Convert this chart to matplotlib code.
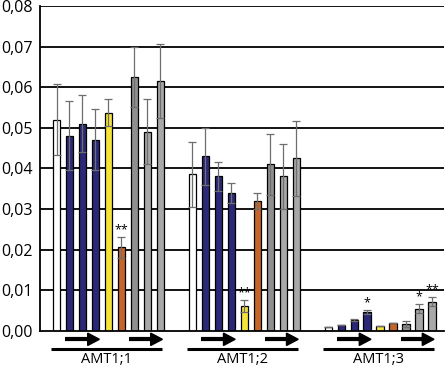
import numpy as np
import matplotlib.pyplot as plt
from matplotlib.patches import Polygon

plt.rcParams['font.family'] = ['Open Sans', 'DejaVu Sans']

groups = ['AMT1;1', 'AMT1;2', 'AMT1;3']
colors = ['white', '#2b2878', '#2b2878', '#2b2878', '#f3e43c',
          '#c5652a', '#8f8f8f', '#a8a8a8', '#a8a8a8']

values = [
    [0.052, 0.048, 0.051, 0.047, 0.0537, 0.0205, 0.0625, 0.049, 0.0615],
    [0.0385, 0.043, 0.038, 0.034, 0.006, 0.032, 0.041, 0.038, 0.0425],
    [0.0008, 0.0013, 0.0026, 0.0046, 0.0012, 0.0018, 0.0016, 0.0054, 0.0071],
]
errors = [
    [0.0087, 0.0085, 0.007, 0.0075, 0.0033, 0.0025, 0.0075, 0.008, 0.0092],
    [0.008, 0.007, 0.0035, 0.0025, 0.0015, 0.002, 0.0075, 0.008, 0.0092],
    [0.0, 0.0, 0.0002, 0.0005, 0.0, 0.0, 0.0008, 0.0011, 0.0011],
]
stars = {(0, 5): '**', (1, 4): '**', (2, 3): '*', (2, 7): '*', (2, 8): '**'}

yticks = np.arange(0, 0.081, 0.01)
ytick_labels = ['0,00', '0,01', '0,02', '0,03', '0,04', '0,05', '0,06', '0,07', '0,08']

group_step = 10.45
width = 0.55

fig = plt.figure(figsize=(4.48, 3.69), dpi=100)
ax = fig.add_axes([40 / 448, 1 - 330.7 / 369, 404 / 448, 324.7 / 369])

for y in yticks[1:]:
    ax.axhline(y, color='black', lw=1.3, zorder=0)

for g in range(3):
    x = g * group_step + np.arange(9)
    ax.bar(x, values[g], width=width, color=colors, edgecolor='black',
           linewidth=0.9, zorder=2)
    ax.errorbar(x, values[g], yerr=errors[g], fmt='none', ecolor='#6e6e6e',
                elinewidth=0.9, capsize=3, capthick=0.9, zorder=3)
    for i in range(9):
        if (g, i) in stars:
            ax.text(x[i], values[g][i] + errors[g][i] + 0.0002, stars[(g, i)],
                    ha='center', va='bottom', fontsize=9, zorder=4)

    # gene structure arrows below the axis
    trans = ax.get_xaxis_transform()
    x0 = g * group_step
    for start, tip in [(0.65, 3.3), (5.6, 8.15)]:
        ax.plot([x0 + start, x0 + tip - 0.85], [-0.0265, -0.0265], color='black',
                lw=3, solid_capstyle='butt', transform=trans, clip_on=False)
        head = Polygon([(x0 + tip - 0.9, -0.0455), (x0 + tip, -0.0265),
                        (x0 + tip - 0.9, -0.0075)], closed=True,
                       color='black', transform=trans, clip_on=False)
        ax.add_patch(head)
    ax.plot([x0 - 0.42, x0 + 8.12], [-0.0565, -0.0565], color='black', lw=2.2,
            solid_capstyle='butt', transform=trans, clip_on=False)
    ax.text(x0 + 3.85, -0.09, groups[g], ha='center', va='center',
            fontsize=10.5, transform=trans)

ax.set_xlim(-1.27, 2 * group_step + 8 + 0.92)
ax.set_ylim(0, 0.08)
ax.set_yticks(yticks)
ax.set_yticklabels(ytick_labels, fontsize=11.5)
ax.set_xticks([])
ax.tick_params(axis='y', length=0, pad=5)
ax.spines['right'].set_visible(False)
ax.spines['top'].set_visible(False)
ax.spines['left'].set_linewidth(1.3)
ax.spines['bottom'].set_linewidth(1.3)

plt.savefig('out.png', dpi=100)
